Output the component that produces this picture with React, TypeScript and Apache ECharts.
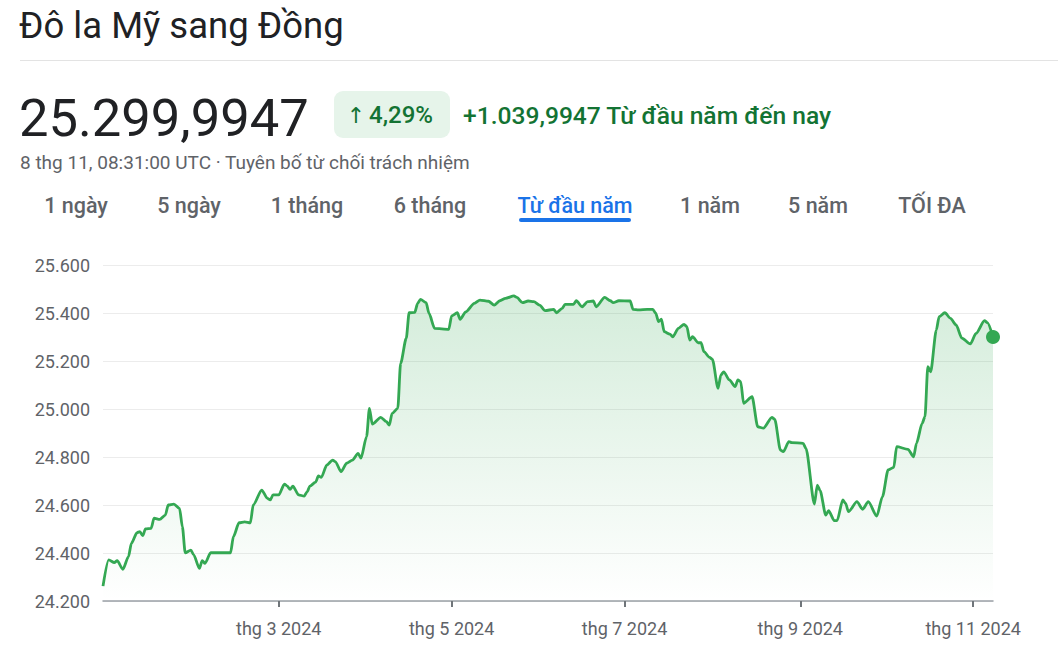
import React, { useEffect, useRef } from "react";
import * as echarts from "echarts";

const titleText = "Đô la Mỹ sang Đồng";
const priceText = "25.299,9947";
const changeArrow = "↑";
const changePctText = "4,29%";
const changeText = "+1.039,9947 Từ đầu năm đến nay";
const timestampText = "8 thg 11, 08:31:00 UTC · Tuyên bố từ chối trách nhiệm";
const tabs = ["1 ngày", "5 ngày", "1 tháng", "6 tháng", "Từ đầu năm", "1 năm", "5 năm", "TỐI ĐA"];
const selectedTab = 4;

const yMin = 24200;
const yMax = 25600;
const yInterval = 200;

const xStart = "2023-12-30";
const xEnd = "2024-11-08";
const xTickDates = ["2024-03-01", "2024-05-01", "2024-07-01", "2024-09-01", "2024-11-01"];
const xTickLabels = ["thg 3 2024", "thg 5 2024", "thg 7 2024", "thg 9 2024", "thg 11 2024"];

const dates = [
  "2023-12-30", "2024-01-01", "2024-01-03", "2024-01-04", "2024-01-06", "2024-01-08", "2024-01-09",
  "2024-01-11", "2024-01-12", "2024-01-13", "2024-01-14", "2024-01-16", "2024-01-17", "2024-01-19",
  "2024-01-21", "2024-01-22", "2024-01-24", "2024-01-26", "2024-01-27", "2024-01-28", "2024-01-30",
  "2024-01-31", "2024-02-02", "2024-02-03", "2024-02-04", "2024-02-06", "2024-02-13", "2024-02-14",
  "2024-02-16", "2024-02-18", "2024-02-20", "2024-02-21", "2024-02-24", "2024-02-26", "2024-02-27",
  "2024-02-28", "2024-03-01", "2024-03-03", "2024-03-04", "2024-03-05", "2024-03-06", "2024-03-08",
  "2024-03-10", "2024-03-11", "2024-03-12", "2024-03-14", "2024-03-15", "2024-03-16", "2024-03-18",
  "2024-03-20", "2024-03-21", "2024-03-23", "2024-03-25", "2024-03-27", "2024-03-29", "2024-03-30",
  "2024-04-01", "2024-04-02", "2024-04-03", "2024-04-06", "2024-04-08", "2024-04-09", "2024-04-10",
  "2024-04-12", "2024-04-13", "2024-04-15", "2024-04-16", "2024-04-18", "2024-04-19", "2024-04-20",
  "2024-04-22", "2024-04-23", "2024-04-25", "2024-04-30", "2024-05-01", "2024-05-03", "2024-05-04",
  "2024-05-06", "2024-05-09", "2024-05-11", "2024-05-14", "2024-05-16", "2024-05-18", "2024-05-20",
  "2024-05-23", "2024-05-24", "2024-05-26", "2024-05-28", "2024-05-30", "2024-06-01", "2024-06-03",
  "2024-06-06", "2024-06-07", "2024-06-09", "2024-06-10", "2024-06-13", "2024-06-14", "2024-06-16",
  "2024-06-18", "2024-06-20", "2024-06-21", "2024-06-24", "2024-06-26", "2024-06-27", "2024-06-29",
  "2024-07-03", "2024-07-04", "2024-07-06", "2024-07-09", "2024-07-11", "2024-07-12", "2024-07-13",
  "2024-07-14", "2024-07-15", "2024-07-17", "2024-07-18", "2024-07-20", "2024-07-22", "2024-07-23",
  "2024-07-24", "2024-07-25", "2024-07-27", "2024-07-28", "2024-07-29", "2024-07-31", "2024-08-01",
  "2024-08-03", "2024-08-04", "2024-08-05", "2024-08-07", "2024-08-09", "2024-08-10", "2024-08-11",
  "2024-08-12", "2024-08-15", "2024-08-17", "2024-08-19", "2024-08-22", "2024-08-23", "2024-08-25",
  "2024-08-26", "2024-08-28", "2024-08-29", "2024-09-02", "2024-09-03", "2024-09-06", "2024-09-07",
  "2024-09-08", "2024-09-10", "2024-09-11", "2024-09-13", "2024-09-14", "2024-09-16", "2024-09-17",
  "2024-09-18", "2024-09-21", "2024-09-23", "2024-09-25", "2024-09-28", "2024-09-30", "2024-10-02",
  "2024-10-04", "2024-10-05", "2024-10-09", "2024-10-11", "2024-10-12", "2024-10-14", "2024-10-15",
  "2024-10-16", "2024-10-17", "2024-10-19", "2024-10-20", "2024-10-22", "2024-10-24", "2024-10-26",
  "2024-10-28", "2024-10-31", "2024-11-02", "2024-11-05", "2024-11-06", "2024-11-08",
];

const rates = [
  24262, 24371, 24360, 24368, 24332, 24385, 24440,
  24485, 24489, 24472, 24500, 24503, 24545, 24540,
  24558, 24600, 24604, 24586, 24510, 24401, 24412,
  24392, 24336, 24368, 24357, 24401, 24401, 24468,
  24526, 24530, 24526, 24600, 24662, 24628, 24621,
  24642, 24642, 24687, 24679, 24665, 24679, 24642,
  24637, 24655, 24679, 24695, 24721, 24715, 24767,
  24787, 24780, 24739, 24774, 24787, 24815, 24795,
  24885, 25003, 24937, 24965, 24947, 24933, 24982,
  25003, 25190, 25295, 25401, 25403, 25440, 25457,
  25443, 25399, 25336, 25332, 25388, 25401, 25374,
  25405, 25440, 25454, 25449, 25433, 25451, 25461,
  25471, 25465, 25443, 25450, 25447, 25433, 25410,
  25415, 25401, 25419, 25436, 25436, 25451, 25426,
  25447, 25450, 25426, 25465, 25451, 25443, 25451,
  25450, 25415, 25413, 25415, 25415, 25399, 25364,
  25374, 25322, 25312, 25301, 25336, 25353, 25343,
  25287, 25301, 25276, 25276, 25239, 25215, 25207,
  25086, 25142, 25155, 25121, 25093, 25121, 25114,
  25024, 25051, 24926, 24920, 24965, 24957, 24829,
  24822, 24864, 24860, 24857, 24836, 24604, 24683,
  24660, 24558, 24576, 24535, 24535, 24621, 24607,
  24572, 24614, 24582, 24614, 24554, 24635, 24746,
  24757, 24843, 24832, 24801, 24857, 24940, 24968,
  25176, 25155, 25329, 25385, 25401, 25378, 25350,
  25295, 25271, 25315, 25368, 25360, 25300,
];

const GREEN = "#34a853";
const DARK_GREEN = "#137333";
const GREY = "#5f6368";
const BLUE = "#1a73e8";
const FONT = "Roboto, Arial, sans-serif";

// layout of the tab row (centres in px)
const tabCenters = [76, 189, 307, 430, 575, 710, 818, 932];

function toTs(s: string): number {
  const [y, m, d] = s.split("-").map(Number);
  return Date.UTC(y, m - 1, d);
}

function fmtThousands(v: number): string {
  return String(v).replace(/\B(?=(\d{3})+(?!\d))/g, ".");
}

export default function App() {
  const ref = useRef<HTMLDivElement>(null);

  useEffect(() => {
    if (!ref.current) return;
    const chart = echarts.init(ref.current, null, { renderer: "svg" });
    const tickTs = xTickDates.map(toTs);
    const seriesData = dates.map((d, i) => [toTs(d), rates[i]]);
    const last = seriesData[seriesData.length - 1];

    const graphics: any[] = [
      {
        type: "text",
        x: 19,
        y: 25,
        style: { text: titleText, font: `400 36.5px ${FONT}`, fill: "#202124", textVerticalAlign: "middle" },
      },
      {
        type: "line",
        shape: { x1: 20, y1: 60.5, x2: 1058, y2: 60.5 },
        style: { stroke: "#e3e3e3", lineWidth: 1 },
      },
      {
        type: "text",
        x: 19,
        y: 118,
        style: { text: priceText, font: `400 52.5px ${FONT}`, fill: "#202124", textVerticalAlign: "middle" },
      },
      {
        type: "rect",
        shape: { x: 334, y: 91, width: 116, height: 47, r: 9 },
        style: { fill: "#e6f4ea" },
      },
      {
        type: "text",
        x: 356,
        y: 115,
        style: {
          text: changeArrow,
          font: `400 22px "DejaVu Sans", sans-serif`,
          fill: DARK_GREEN,
          textAlign: "center",
          textVerticalAlign: "middle",
        },
      },
      {
        type: "text",
        x: 369,
        y: 115,
        style: {
          text: changePctText,
          font: `500 24px ${FONT}`,
          fill: DARK_GREEN,
          textVerticalAlign: "middle",
        },
      },
      {
        type: "text",
        x: 463,
        y: 115,
        style: { text: changeText, font: `500 24.6px ${FONT}`, fill: DARK_GREEN, textVerticalAlign: "middle" },
      },
      {
        type: "text",
        x: 20,
        y: 162,
        style: { text: timestampText, font: `400 19px ${FONT}`, fill: GREY, textVerticalAlign: "middle" },
      },
      ...tabs.map((t, i) => ({
        type: "text",
        x: tabCenters[i],
        y: 205,
        style: {
          text: t,
          font: `500 21.5px ${FONT}`,
          fill: i === selectedTab ? BLUE : GREY,
          textAlign: "center",
          textVerticalAlign: "middle",
        },
      })),
      {
        type: "rect",
        shape: { x: 519, y: 218, width: 112, height: 4, r: 2 },
        style: { fill: BLUE },
      },
    ];

    chart.setOption({
      animation: false,
      backgroundColor: "#ffffff",
      grid: { left: 103, right: 65, top: 265, bottom: 68 },
      xAxis: {
        type: "value",
        min: toTs(xStart),
        max: toTs(xEnd),
        axisLine: { show: true, onZero: false, lineStyle: { color: "#9aa0a6", width: 1.5 } },
        axisTick: {
          show: true,
          customValues: tickTs,
          length: 6,
          lineStyle: { color: "#70757a", width: 2 },
        },
        axisLabel: {
          customValues: tickTs,
          color: GREY,
          fontSize: 18,
          fontFamily: FONT,
          margin: 18,
          formatter: (v: number) => {
            const idx = tickTs.indexOf(v);
            return idx >= 0 ? xTickLabels[idx] : "";
          },
        },
        splitLine: { show: false },
      },
      yAxis: {
        type: "value",
        min: yMin,
        max: yMax,
        interval: yInterval,
        axisLine: { show: false },
        axisTick: { show: false },
        axisLabel: {
          color: GREY,
          fontSize: 18,
          fontFamily: FONT,
          margin: 13,
          formatter: (v: number) => fmtThousands(v),
        },
        splitLine: { lineStyle: { color: "#ececec", width: 1 } },
      },
      series: [
        {
          type: "line",
          data: seriesData,
          showSymbol: false,
          smooth: 0.25,
          smoothMonotone: "x",
          lineStyle: { color: GREEN, width: 2.8 },
          areaStyle: {
            color: new echarts.graphic.LinearGradient(0, 0, 0, 1, [
              { offset: 0, color: "rgba(52,168,83,0.30)" },
              { offset: 1, color: "rgba(52,168,83,0)" },
            ]),
          },
          z: 3,
        },
        {
          type: "scatter",
          data: [last],
          symbolSize: 14,
          itemStyle: { color: GREEN, opacity: 1 },
          clip: false,
          z: 5,
        },
      ],
      graphic: graphics,
    });

    return () => chart.dispose();
  }, []);

  return (
    <div
      ref={ref}
      style={{ position: "absolute", left: 0, top: 0, width: 1058, height: 669, background: "#fff" }}
    />
  );
}
